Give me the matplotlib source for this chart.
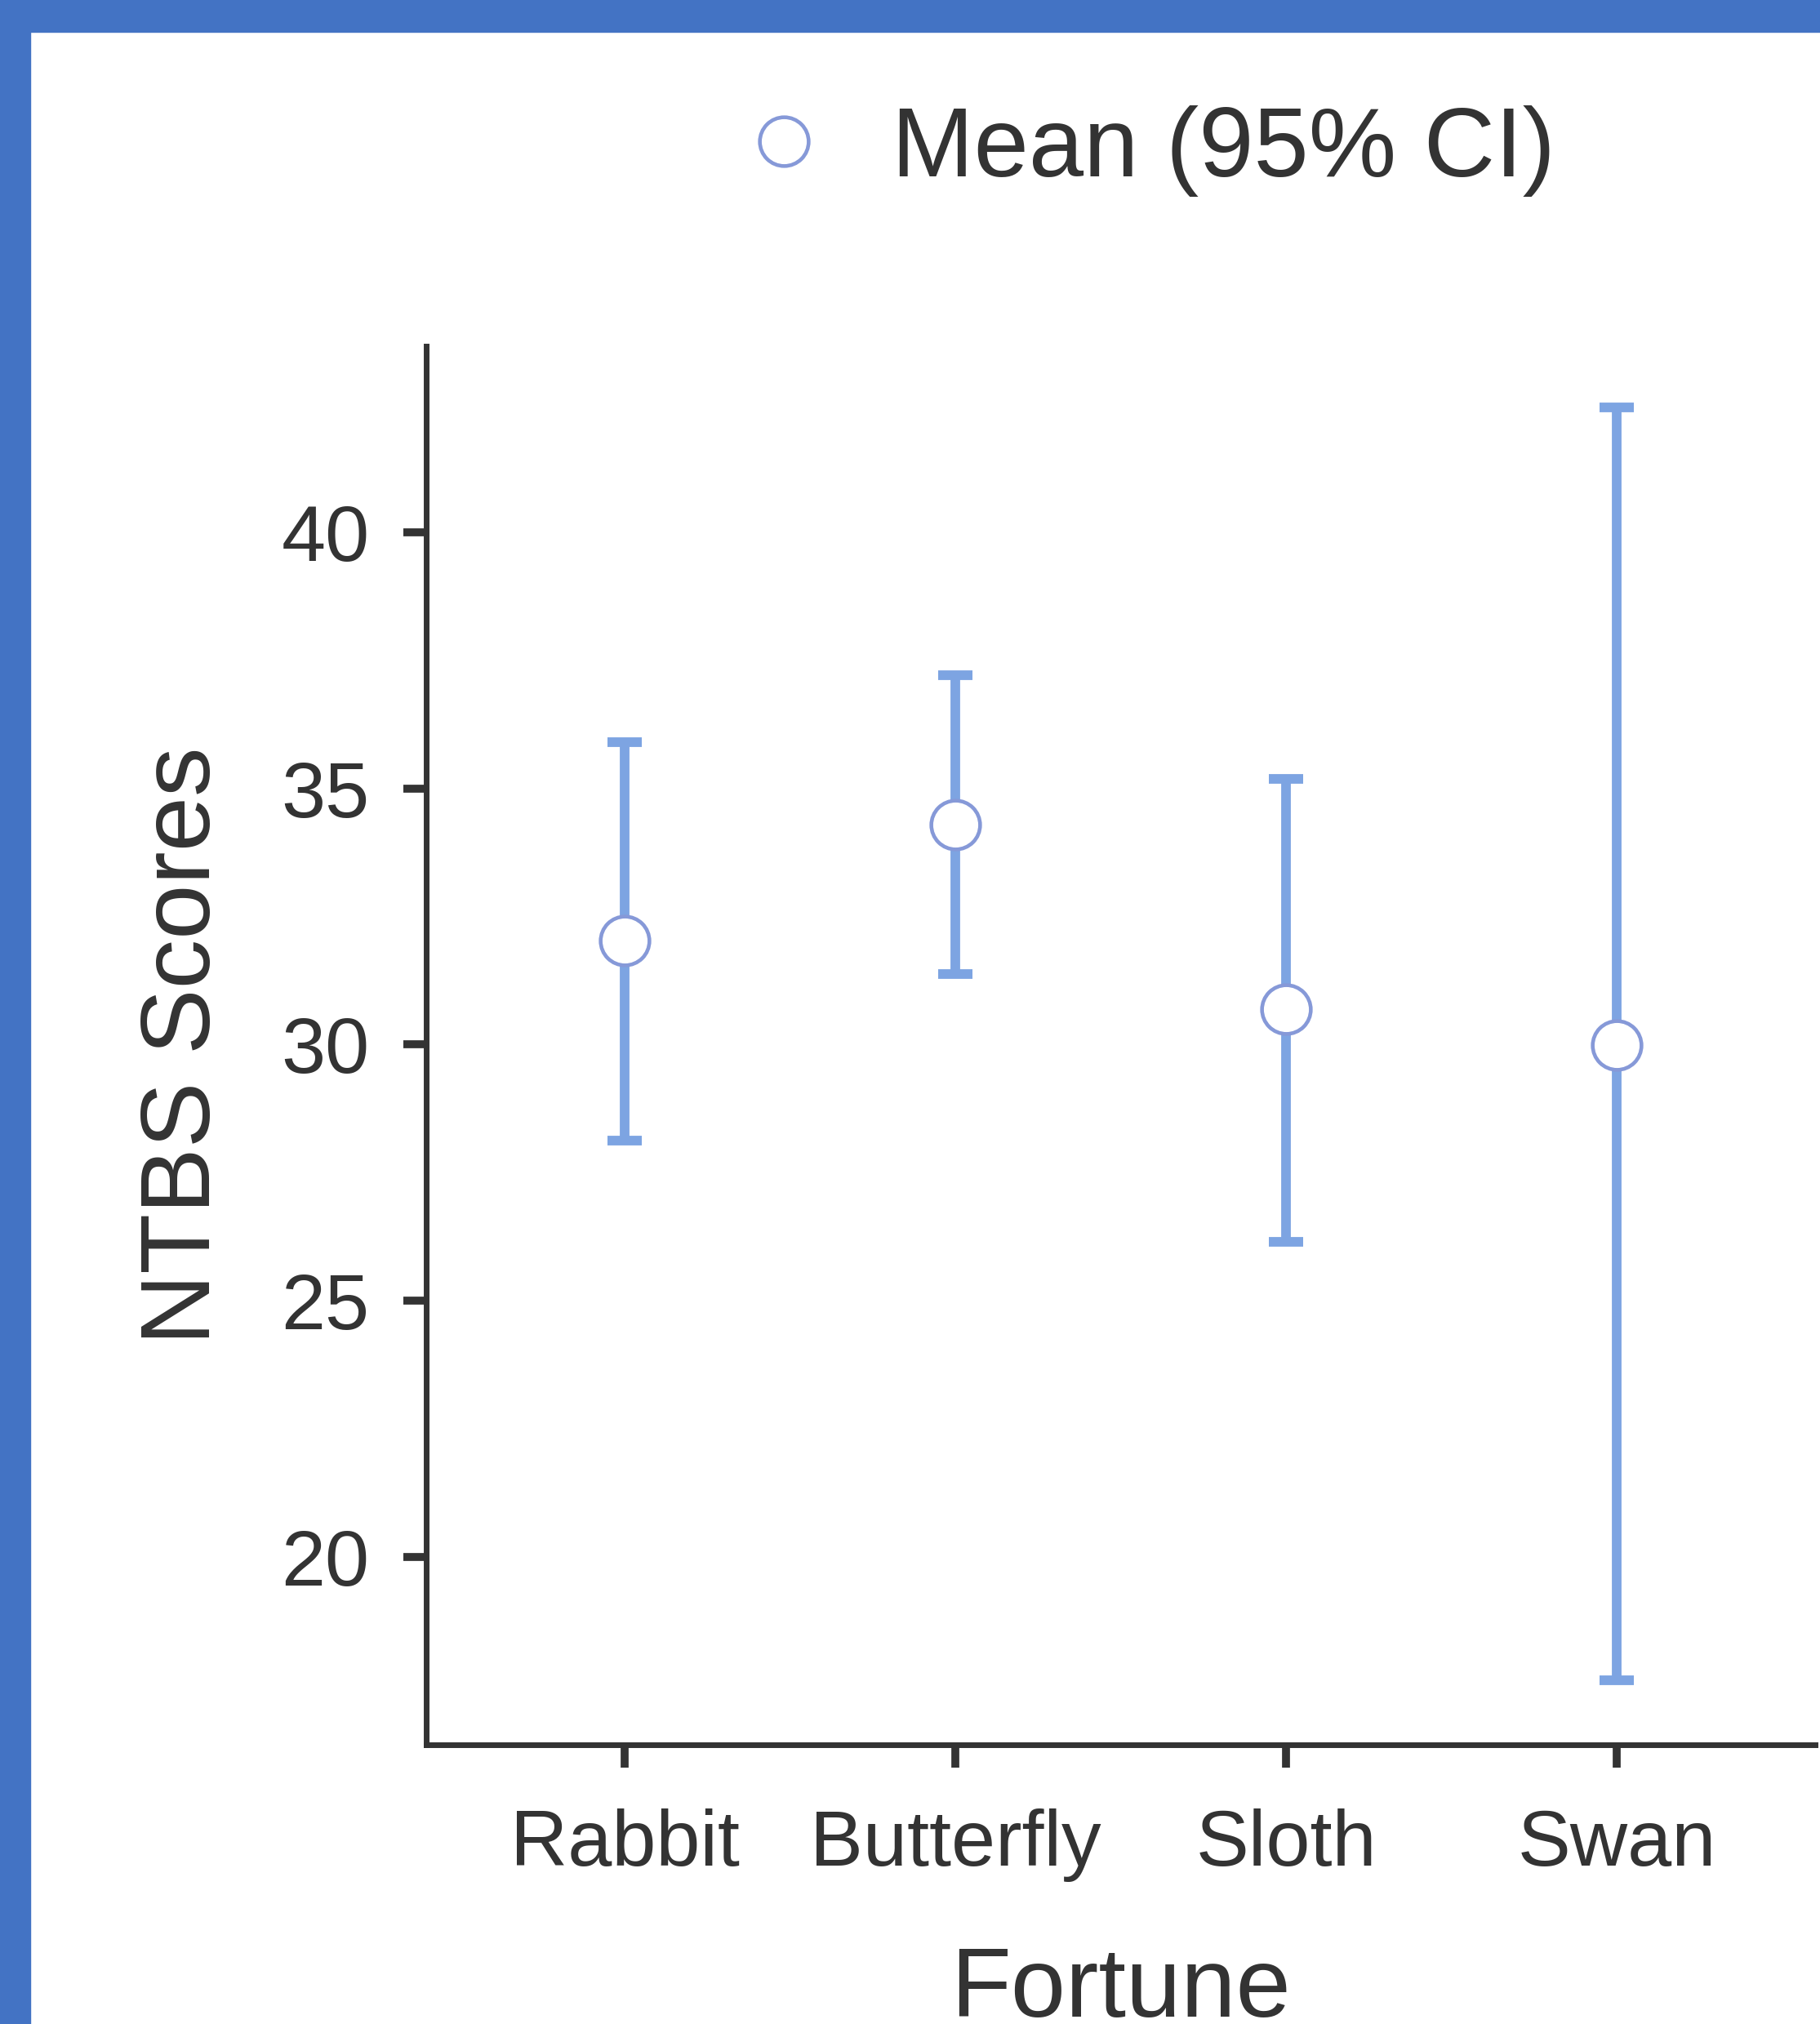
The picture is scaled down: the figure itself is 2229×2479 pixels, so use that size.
import numpy as np
import matplotlib
matplotlib.use("Agg")
import matplotlib.pyplot as plt
from matplotlib.lines import Line2D
from matplotlib.patches import Rectangle

# data
groups = ["Rabbit", "Butterfly", "Sloth", "Swan"]
means = np.array([32.02, 34.29, 30.69, 29.99])
ci_low = np.array([28.13, 31.38, 26.15, 17.59])
ci_high = np.array([35.90, 37.20, 35.19, 42.44])
yticks = [20, 25, 30, 35, 40]

bar_col = "#7DA4E2"
edge_col = "#8699D8"
txt_col = "#333333"
frame_col = "#4373C4"

plt.rcParams["font.family"] = ["Liberation Sans", "DejaVu Sans"]

W, H = 2229, 2479
fig = plt.figure(figsize=(W / 100, H / 100), dpi=100)
fig.patch.set_facecolor("white")

# blue frame on top and left
fig.patches.append(Rectangle((0, 1 - 39 / H), 1, 39 / H, transform=fig.transFigure,
                             color=frame_col, zorder=0))
fig.patches.append(Rectangle((0, 0), 37 / W, 1, transform=fig.transFigure,
                             color=frame_col, zorder=0))

ax = fig.add_axes([522 / W, 1 - 2137 / H, (2223 - 522) / W, (2137 - 424) / H])
x = np.arange(len(groups))
ax.errorbar(x, means, yerr=[means - ci_low, ci_high - means], fmt="none",
            ecolor=bar_col, elinewidth=8.5, capsize=15, capthick=8.5, zorder=2)
ax.plot(x, means, "o", ms=43, mfc="white", mec=edge_col, mew=3.3, zorder=3)

ax.set_xlim(-0.6, 3.6)
ax.set_ylim(16.33, 43.63)
ax.set_xticks(x)
ax.set_xticklabels(groups)
ax.set_yticks(yticks)

for s in ["top", "right"]:
    ax.spines[s].set_visible(False)
for s in ["left", "bottom"]:
    ax.spines[s].set_linewidth(5)
    ax.spines[s].set_color(txt_col)

ax.tick_params(axis="both", length=20, width=7, color=txt_col,
               labelcolor=txt_col, labelsize=70)
ax.tick_params(axis="x", pad=36)
ax.tick_params(axis="y", pad=30)
ax.set_xlabel("Fortune", fontsize=87, color=txt_col, labelpad=56)
ax.set_ylabel("NTBS Scores", fontsize=87, color=txt_col, labelpad=45)

handle = Line2D([], [], ls="none", marker="o", ms=43, mfc="white", mec=edge_col, mew=3.3)
fig.legend([handle], ["Mean (95% CI)"], loc="center", bbox_to_anchor=(0.629, 0.9255),
           frameon=False, fontsize=87, handlelength=1.0, handletextpad=0.59,
           labelcolor=txt_col)

fig.savefig("out.png", dpi=100)
